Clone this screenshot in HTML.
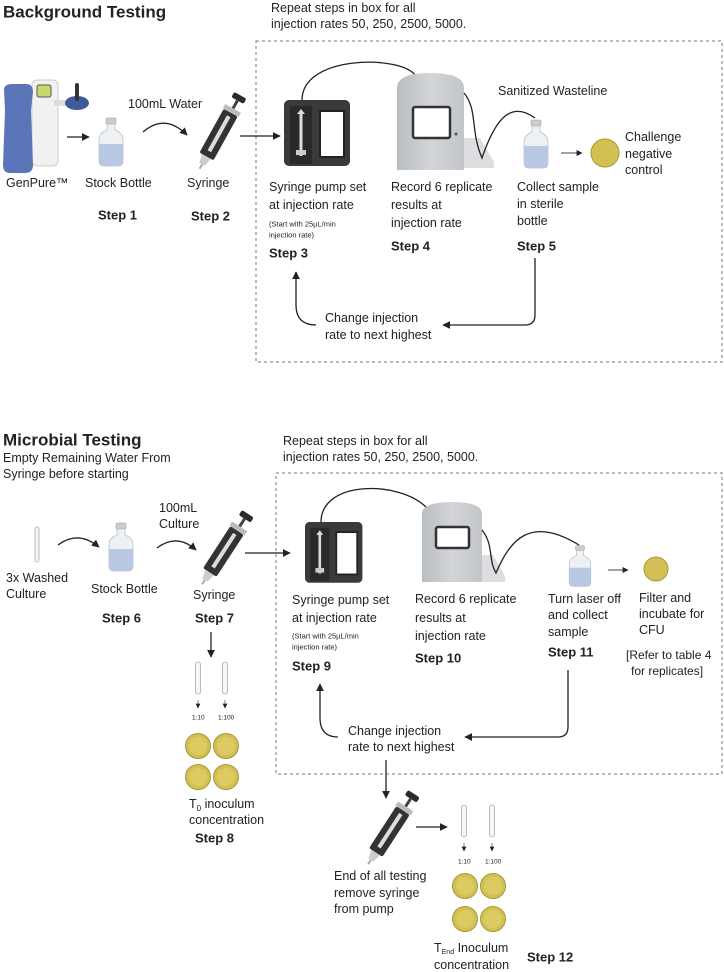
<!DOCTYPE html>
<html><head><meta charset="utf-8"><style>
html,body{margin:0;padding:0;background:#fff}
svg{display:block}
text{font-family:"Liberation Sans",sans-serif;fill:#222;dominant-baseline:central}
.t{font-size:12.5px}
.s{font-size:7.5px}
.b{font-size:13px;font-weight:bold}
.h{font-size:17px;font-weight:bold}
.ln{stroke:#222;stroke-width:1.3;fill:none}
.dash{stroke:#777;stroke-width:1;fill:none;stroke-dasharray:3,3}
</style></head><body>
<svg width="724" height="972" viewBox="0 0 724 972" xmlns="http://www.w3.org/2000/svg">
<defs>
<marker id="ar" viewBox="0 0 10 10" refX="9" refY="5" markerWidth="6" markerHeight="6" orient="auto"><path d="M0,0 L10,5 L0,10 z" fill="#222"/></marker>
<linearGradient id="mg" x1="0" x2="1" y1="0" y2="0"><stop offset="0" stop-color="#b9bcc0"/><stop offset=".5" stop-color="#d3d5d8"/><stop offset="1" stop-color="#c2c5c9"/></linearGradient>
<g id="bottle">
 <rect x="-5" y="-24" width="10" height="6" rx="1" fill="#c9cdd2" stroke="#999" stroke-width=".5"/>
 <path d="M-4,-18 L4,-18 L4,-12 Q12,-9 12,-2 L12,19 Q12,24 7,24 L-7,24 Q-12,24 -12,19 L-12,-2 Q-12,-9 -4,-12 Z" fill="#eef1f4" stroke="#bbb" stroke-width=".7"/>
 <path d="M-12,2 L12,2 L12,19 Q12,24 7,24 L-7,24 Q-12,24 -12,19 Z" fill="#b9c9e4"/>
</g>
<g id="syr">
 <rect x="-7" y="-42" width="14" height="6" rx="2" fill="#2b2b2b"/>
 <rect x="-1.5" y="-37" width="3" height="11" fill="#444"/>
 <rect x="-9" y="-27" width="18" height="5" fill="#bbb"/>
 <rect x="-8" y="-22" width="16" height="50" rx="2" fill="#333"/>
 <rect x="-2" y="-18" width="4" height="40" fill="#ddd"/>
 <path d="M-5,28 L5,28 L3,37 L-3,37 Z" fill="#ccc"/>
 <rect x="-1" y="37" width="2" height="5" fill="#aaa"/>
</g>
<g id="pump">
 <rect x="0" y="0" width="66" height="66" rx="5" fill="#3a3a3a"/>
 <rect x="6" y="6" width="22" height="58" fill="#2a2a2a"/>
 <rect x="15.5" y="12" width="3" height="44" fill="#ddd"/>
 <path d="M13,14 L21,14 L17,9 Z" fill="#ddd"/>
 <rect x="12" y="50" width="10" height="5" fill="#ccc"/>
 <rect x="36" y="11" width="24" height="46" fill="#fff" stroke="#222" stroke-width="2"/>
</g>
<g id="plate"><circle r="12.5" fill="#d2c052" stroke="#a8973a" stroke-width="1"/><circle r="9" fill="#dccb63"/></g>
<g id="tube"><rect x="-2.5" y="0" width="5" height="32" rx="2.5" fill="#f6f6f6" stroke="#aaa" stroke-width=".8"/></g>
</defs>

<text x="3" y="12" class="h">Background Testing</text>
<text x="271" y="8" class="t">Repeat steps in box for all</text>
<text x="271" y="24" class="t">injection rates 50, 250, 2500, 5000.</text>
<rect x="256" y="41" width="466" height="321" class="dash"/>

<rect x="32" y="80" width="26" height="86" rx="5" fill="#f1f1f1" stroke="#ccc"/>
<rect x="37" y="85" width="14" height="12" rx="2" fill="#c8d96a" stroke="#555"/>
<rect x="54" y="100" width="24" height="6" fill="#ddd"/>
<ellipse cx="77" cy="103" rx="12" ry="7" fill="#3d5a9a"/>
<rect x="75" y="83" width="4" height="18" rx="2" fill="#333"/>
<path d="M4,90 Q4,84 12,84 L26,84 Q33,84 33,92 L31,110 L33,165 Q33,173 25,173 L10,173 Q3,173 3,165 L5,110 Z" fill="#5a76b8"/>
<line x1="67" y1="137" x2="89" y2="137" class="ln" marker-end="url(#ar)"/>
<use href="#bottle" x="111" y="142"/>
<text x="6" y="183" class="t">GenPure™</text>
<text x="85" y="183" class="t">Stock Bottle</text>
<text x="98" y="215" class="b">Step 1</text>
<text x="128" y="104" class="t">100mL Water</text>
<path d="M143,132 Q165,113 187,135" class="ln" marker-end="url(#ar)"/>
<use href="#syr" transform="translate(220,132) rotate(29)"/>
<text x="187" y="183" class="t">Syringe</text>
<text x="191" y="216" class="b">Step 2</text>
<line x1="240" y1="136" x2="280" y2="136" class="ln" marker-end="url(#ar)"/>

<use href="#pump" x="284" y="100"/>
<path d="M302,100 C302,55 400,55 415,75" class="ln"/>
<path d="M464,138 L480,138 L494,162 L494,168 L464,168 Z" fill="#dcdee1"/>
<path d="M397,88 Q397,73 430,73 Q464,73 464,88 L464,170 L397,170 Z" fill="url(#mg)"/>
<rect x="413" y="107" width="37" height="31" rx="2" fill="#fff" stroke="#333" stroke-width="2.5"/>
<circle cx="456" cy="134" r="1.5" fill="#555"/>
<path d="M464,93 C478,110 470,130 482,158 C495,120 510,100 535,118" class="ln"/>
<text x="498" y="91" class="t">Sanitized Wasteline</text>
<use href="#bottle" x="536" y="144"/>
<line x1="561" y1="153" x2="582" y2="153" stroke="#444" stroke-width="1" marker-end="url(#ar)"/>
<circle cx="605" cy="153" r="14" fill="#d2c052" stroke="#a8973a"/>
<text x="625" y="137" class="t">Challenge</text>
<text x="625" y="154" class="t">negative</text>
<text x="625" y="170" class="t">control</text>

<text x="269" y="187" class="t">Syringe pump set</text>
<text x="269" y="205" class="t">at injection rate</text>
<text x="269" y="224" class="s">(Start with 25µL/min</text>
<text x="269" y="235" class="s">injection rate)</text>
<text x="269" y="253" class="b">Step 3</text>
<text x="391" y="187" class="t">Record 6 replicate</text>
<text x="391" y="205" class="t">results at</text>
<text x="391" y="223" class="t">injection rate</text>
<text x="391" y="246" class="b">Step 4</text>
<text x="517" y="187" class="t">Collect sample</text>
<text x="517" y="204" class="t">in sterile</text>
<text x="517" y="221" class="t">bottle</text>
<text x="517" y="246" class="b">Step 5</text>
<path d="M535,258 L535,315 Q535,325 525,325 L443,325" class="ln" marker-end="url(#ar)"/>
<path d="M316,325 Q296,325 296,305 L296,272" class="ln" marker-end="url(#ar)"/>
<text x="325" y="318" class="t">Change injection</text>
<text x="325" y="335" class="t">rate to next highest</text>

<text x="3" y="440" class="h">Microbial Testing</text>
<text x="3" y="458" class="t">Empty Remaining Water From</text>
<text x="3" y="474" class="t">Syringe before starting</text>
<text x="283" y="441" class="t">Repeat steps in box for all</text>
<text x="283" y="457" class="t">injection rates 50, 250, 2500, 5000.</text>
<rect x="276" y="473" width="446" height="301" class="dash"/>

<rect x="35" y="527" width="4" height="35" rx="2" fill="#f6f6f6" stroke="#aaa" stroke-width=".8"/>
<path d="M58,545 Q78,530 99,547" class="ln" marker-end="url(#ar)"/>
<use href="#bottle" x="121" y="547"/>
<text x="6" y="578" class="t">3x Washed</text>
<text x="6" y="594" class="t">Culture</text>
<text x="91" y="589" class="t">Stock Bottle</text>
<text x="102" y="618" class="b">Step 6</text>
<text x="159" y="508" class="t">100mL</text>
<text x="159" y="524" class="t">Culture</text>
<path d="M157,548 Q177,533 196,550" class="ln" marker-end="url(#ar)"/>
<use href="#syr" transform="translate(225,549) rotate(33)"/>
<text x="193" y="595" class="t">Syringe</text>
<text x="195" y="618" class="b">Step 7</text>
<line x1="211" y1="632" x2="211" y2="657" class="ln" marker-end="url(#ar)"/>
<use href="#tube" x="198" y="662"/><use href="#tube" x="225" y="662"/>
<line x1="198" y1="700" x2="198" y2="708" stroke="#666" stroke-width=".8" marker-end="url(#ar)"/>
<line x1="225" y1="700" x2="225" y2="708" stroke="#666" stroke-width=".8" marker-end="url(#ar)"/>
<text x="192" y="718" class="s" style="font-size:6.5px">1:10</text>
<text x="218" y="718" class="s" style="font-size:6.5px">1:100</text>
<use href="#plate" x="198" y="746"/><use href="#plate" x="226" y="746"/>
<use href="#plate" x="198" y="777"/><use href="#plate" x="226" y="777"/>
<text x="189" y="804" class="t">T<tspan font-size="8" dy="4">0</tspan><tspan dy="-4"> inoculum</tspan></text>
<text x="189" y="820" class="t">concentration</text>
<text x="195" y="838" class="b">Step 8</text>
<line x1="245" y1="553" x2="290" y2="553" class="ln" marker-end="url(#ar)"/>

<g transform="translate(305,522) scale(0.87,0.92)"><use href="#pump"/></g>
<path d="M321,522 C321,480 400,480 427,508" class="ln"/>
<path d="M482,555 L493,555 L505,576 L505,582 L482,582 Z" fill="#dcdee1"/>
<path d="M422,514 Q422,502 452,502 Q482,502 482,514 L482,582 L422,582 Z" fill="url(#mg)"/>
<rect x="436" y="527" width="33" height="21" rx="2" fill="#fff" stroke="#333" stroke-width="2.5"/>
<path d="M482,530 C494,545 488,560 496,573 C510,540 530,515 579,545" class="ln"/>
<g transform="translate(580,566) scale(.9,.85)"><use href="#bottle"/></g>
<line x1="608" y1="570" x2="628" y2="570" stroke="#444" stroke-width="1" marker-end="url(#ar)"/>
<circle cx="656" cy="569" r="12" fill="#d2c052" stroke="#a8973a"/>

<text x="292" y="600" class="t">Syringe pump set</text>
<text x="292" y="618" class="t">at injection rate</text>
<text x="292" y="636" class="s">(Start with 25µL/min</text>
<text x="292" y="647" class="s">injection rate)</text>
<text x="292" y="666" class="b">Step 9</text>
<text x="415" y="599" class="t">Record 6 replicate</text>
<text x="415" y="618" class="t">results at</text>
<text x="415" y="636" class="t">injection rate</text>
<text x="415" y="658" class="b">Step 10</text>
<text x="548" y="599" class="t">Turn laser off</text>
<text x="548" y="615" class="t">and collect</text>
<text x="548" y="632" class="t">sample</text>
<text x="548" y="652" class="b">Step 11</text>
<text x="639" y="598" class="t">Filter and</text>
<text x="639" y="614" class="t">incubate for</text>
<text x="639" y="630" class="t">CFU</text>
<text x="626" y="655" class="t" style="font-size:12px">[Refer to table 4</text>
<text x="631" y="671" class="t" style="font-size:12px">for replicates]</text>

<path d="M568,670 L568,727 Q568,737 558,737 L465,737" class="ln" marker-end="url(#ar)"/>
<path d="M338,737 Q320,737 320,718 L320,684" class="ln" marker-end="url(#ar)"/>
<text x="348" y="731" class="t">Change injection</text>
<text x="348" y="747" class="t">rate to next highest</text>
<line x1="386" y1="760" x2="386" y2="798" class="ln" marker-end="url(#ar)"/>
<use href="#syr" transform="translate(391,829) rotate(33)"/>
<line x1="416" y1="827" x2="447" y2="827" class="ln" marker-end="url(#ar)"/>
<use href="#tube" x="464" y="805"/><use href="#tube" x="492" y="805"/>
<line x1="464" y1="843" x2="464" y2="851" stroke="#666" stroke-width=".8" marker-end="url(#ar)"/>
<line x1="492" y1="843" x2="492" y2="851" stroke="#666" stroke-width=".8" marker-end="url(#ar)"/>
<text x="458" y="862" class="s" style="font-size:6.5px">1:10</text>
<text x="485" y="862" class="s" style="font-size:6.5px">1:100</text>
<use href="#plate" x="465" y="886"/><use href="#plate" x="493" y="886"/>
<use href="#plate" x="465" y="919"/><use href="#plate" x="493" y="919"/>
<text x="334" y="876" class="t">End of all testing</text>
<text x="334" y="893" class="t">remove syringe</text>
<text x="334" y="909" class="t">from pump</text>
<text x="434" y="948" class="t">T<tspan font-size="7" dy="4">End</tspan><tspan dy="-4"> Inoculum</tspan></text>
<text x="434" y="965" class="t">concentration</text>
<text x="527" y="957" class="b">Step 12</text>
</svg>
</body></html>
